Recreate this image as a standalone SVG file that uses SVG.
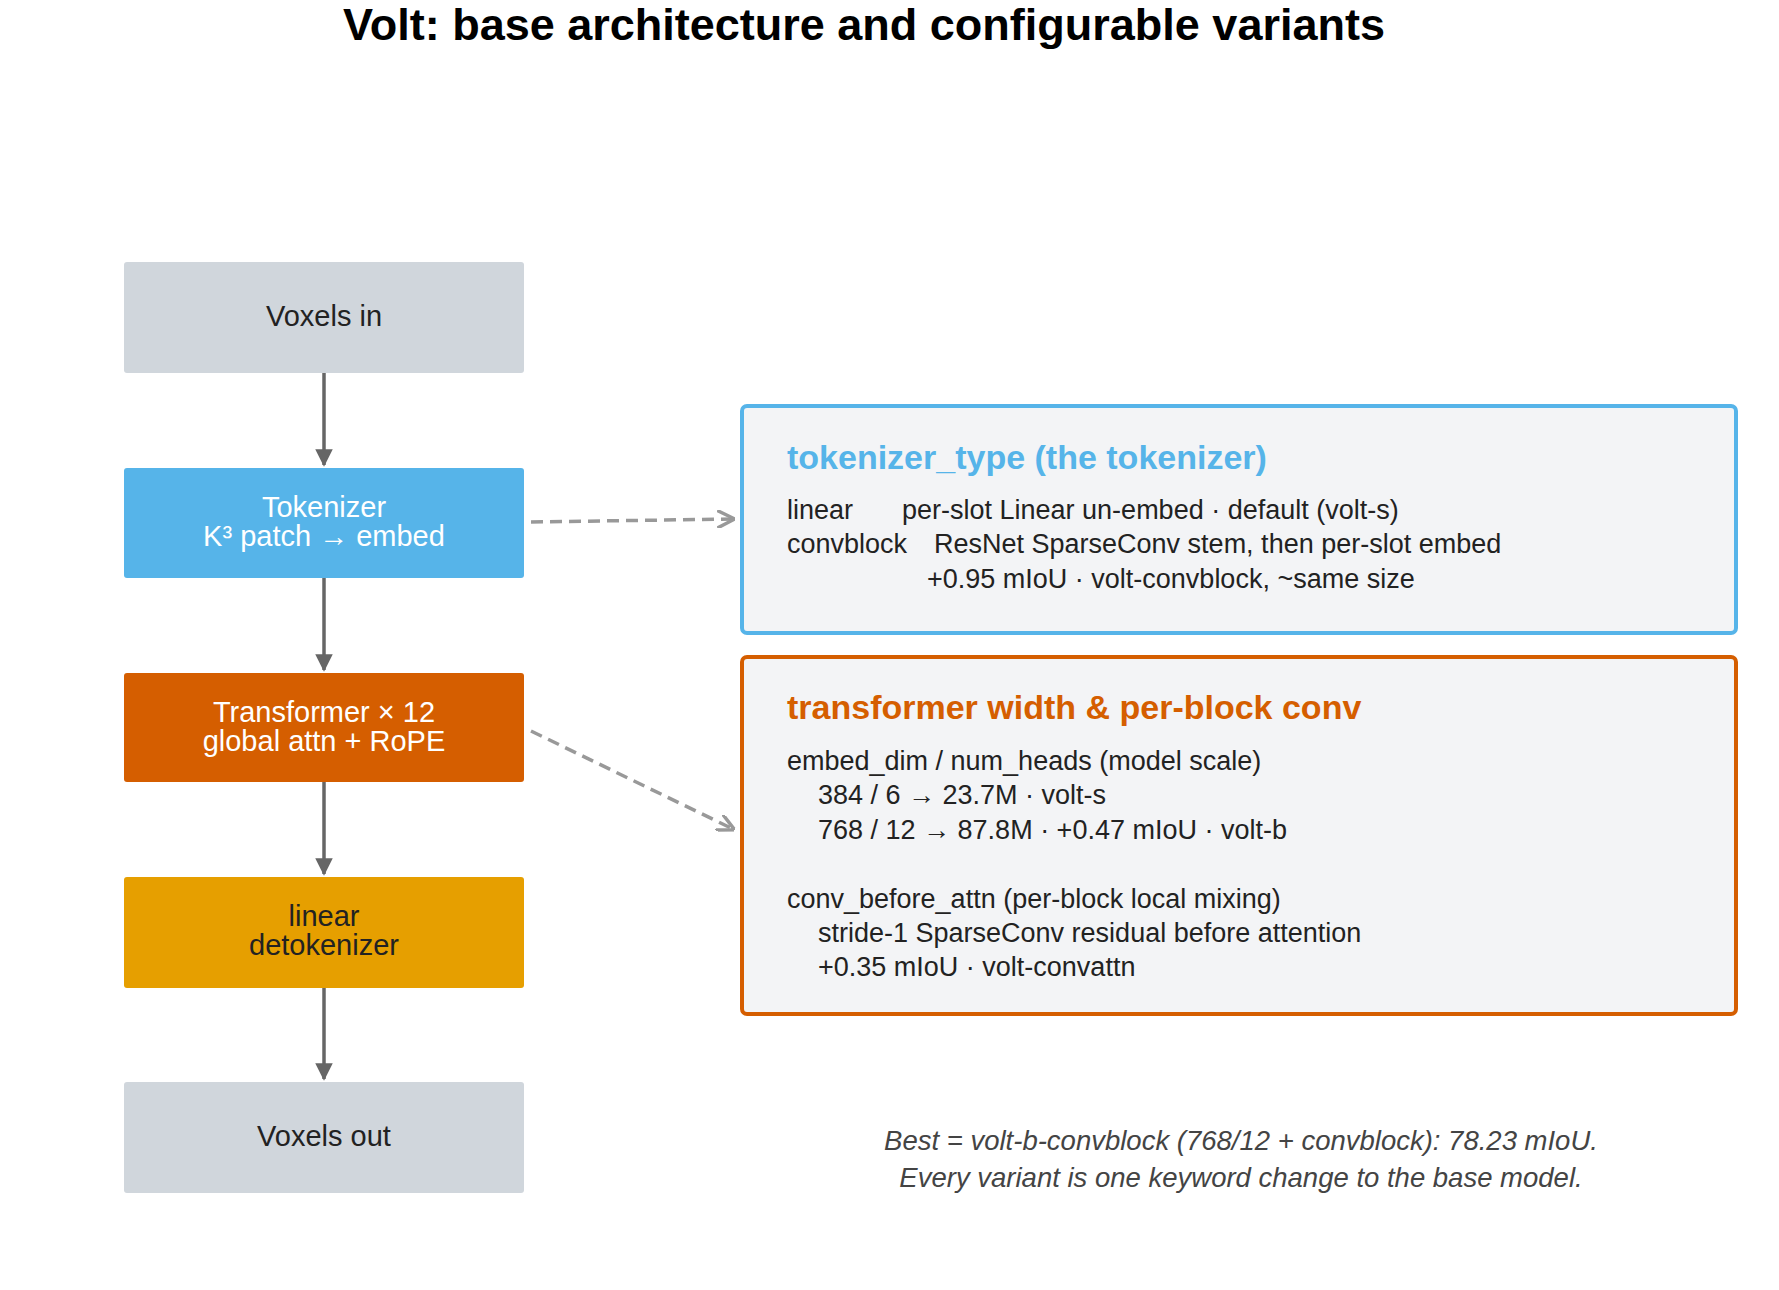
<svg xmlns="http://www.w3.org/2000/svg" width="1779" height="1290" viewBox="0 0 1779 1290" xml:space="preserve">
<style>
text{font-family:"Liberation Sans",Arial,sans-serif}
.bt{font-size:29px;text-anchor:middle}
.b{font-size:27px;fill:#222}
.h{font-size:34px;font-weight:bold}
.f{font-size:27.5px;font-style:italic;fill:#444;text-anchor:middle}
.flow{stroke:#666;stroke-width:3.5;fill:none;marker-end:url(#a)}
.dash{stroke:#999;stroke-width:3.5;fill:none;stroke-dasharray:12,7;marker-end:url(#d)}
</style>
<defs>
<marker id="a" viewBox="0 0 10 10" refX="9" refY="5" markerWidth="5" markerHeight="5" orient="auto"><path d="M0,0L10,5L0,10z" fill="#666"/></marker>
<marker id="d" viewBox="0 0 10 10" refX="9" refY="5" markerWidth="5" markerHeight="5" orient="auto"><path d="M0,0L10,5L0,10" fill="none" stroke="#999" stroke-width="2"/></marker>
</defs>
<rect width="1779" height="1290" fill="#fff"/>
<text x="864" y="40" text-anchor="middle" font-size="45" font-weight="bold">Volt: base architecture and configurable variants</text>
<g id="connectors">
<path class="flow" d="M324,373V465"/>
<path class="flow" d="M324,578V670"/>
<path class="flow" d="M324,782V874"/>
<path class="flow" d="M324,988V1079"/>
<path class="dash" d="M531,522L733,519"/>
<path class="dash" d="M531,731L733,829"/>
</g>
<g id="voxels_in"><rect x="124" y="262" width="400" height="111" rx="3" fill="#d0d6dc"/><text class="bt" x="324" y="326" fill="#222">Voxels in</text></g>
<g id="tokenizer"><rect x="124" y="468" width="400" height="110" rx="3" fill="#56b4e9"/><text class="bt" x="324" y="517" fill="#fff">Tokenizer</text><text class="bt" x="324" y="546" fill="#fff">K³ patch → embed</text></g>
<g id="transformer"><rect x="124" y="673" width="400" height="109" rx="3" fill="#d55e00"/><text class="bt" x="324" y="722" fill="#fff">Transformer × 12</text><text class="bt" x="324" y="751" fill="#fff">global attn + RoPE</text></g>
<g id="detokenizer"><rect x="124" y="877" width="400" height="111" rx="3" fill="#e69f00"/><text class="bt" x="324" y="926" fill="#222">linear</text><text class="bt" x="324" y="955" fill="#222">detokenizer</text></g>
<g id="voxels_out"><rect x="124" y="1082" width="400" height="111" rx="3" fill="#d0d6dc"/><text class="bt" x="324" y="1146" fill="#222">Voxels out</text></g>
<g id="tok_panel"><rect x="742" y="406" width="994" height="227" rx="5" fill="#f3f4f6" stroke="#56b4e9" stroke-width="4"/>
<text class="h" x="787" y="469" fill="#56b4e9">tokenizer_type  (the tokenizer)</text>
<text class="b" x="787" y="519">linear</text><text class="b" x="902" y="519">per-slot Linear un-embed  ·  default (volt-s)</text>
<text class="b" x="787" y="553">convblock</text><text class="b" x="934" y="553">ResNet SparseConv stem, then per-slot embed</text>
<text class="b" x="927" y="588">+0.95 mIoU  ·  volt-convblock, ~same size</text></g>
<g id="tf_panel"><rect x="742" y="657" width="994" height="357" rx="5" fill="#f3f4f6" stroke="#d55e00" stroke-width="4"/>
<text class="h" x="787" y="719" fill="#d55e00">transformer width &amp; per-block conv</text>
<text class="b" x="787" y="770">embed_dim / num_heads   (model scale)</text>
<text class="b" x="818" y="804">384 / 6    → 23.7M   ·  volt-s</text>
<text class="b" x="818" y="839">768 / 12   → 87.8M   ·  +0.47 mIoU  ·  volt-b</text>
<text class="b" x="787" y="908">conv_before_attn   (per-block local mixing)</text>
<text class="b" x="818" y="942">stride-1 SparseConv residual before attention</text>
<text class="b" x="818" y="976">+0.35 mIoU  ·  volt-convattn</text></g>
<g id="footer"><text class="f" x="1241" y="1150">Best = volt-b-convblock  (768/12 + convblock):  78.23 mIoU.</text>
<text class="f" x="1241" y="1187">Every variant is one keyword change to the base model.</text></g>
</svg>
